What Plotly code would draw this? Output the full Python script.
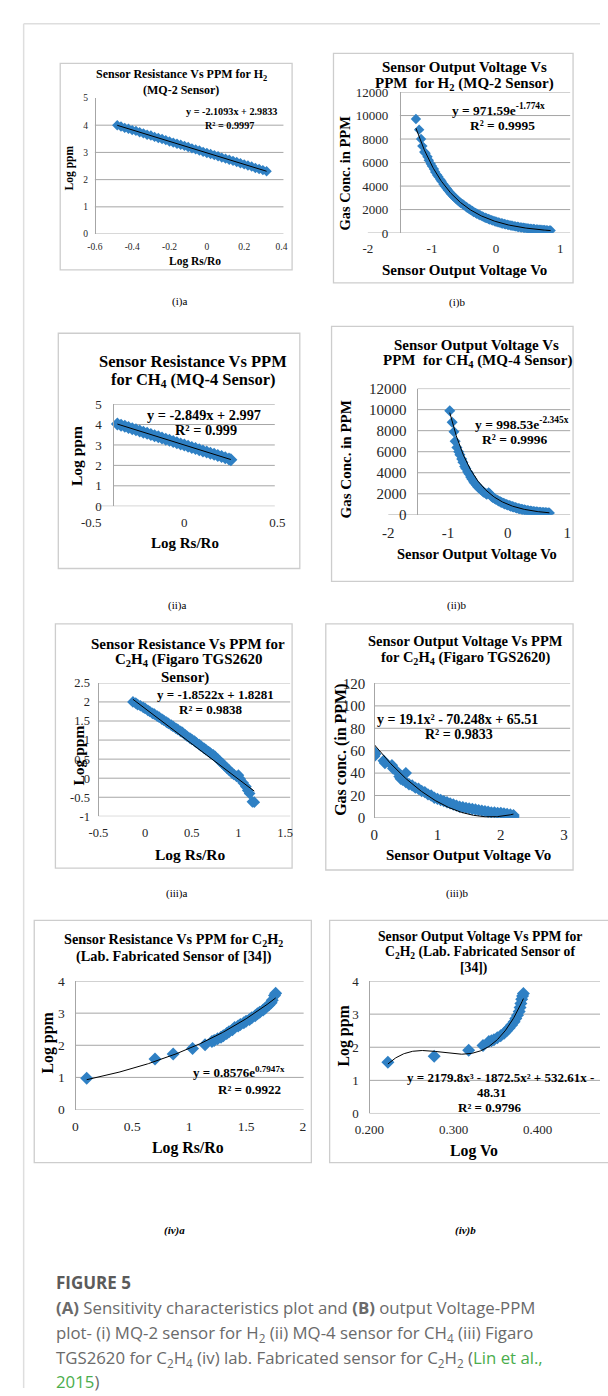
import numpy as np
import plotly.graph_objects as go

W, H = 608, 1396

# ---------------- data ----------------
# (i)a  MQ-2 log Rs/Ro vs log ppm
IA_X = [-0.48, -0.46, -0.44, -0.42, -0.40, -0.38, -0.36, -0.34, -0.32, -0.30,
        -0.28, -0.26, -0.24, -0.22, -0.20, -0.18, -0.16, -0.14, -0.12, -0.10,
        -0.08, -0.06, -0.04, -0.02, 0.00, 0.02, 0.04, 0.06, 0.08, 0.10,
        0.12, 0.14, 0.16, 0.18, 0.20, 0.22, 0.24, 0.26, 0.28, 0.30,
        0.32]
IA_Y = [4.00, 3.95, 3.90, 3.87, 3.82, 3.79, 3.74, 3.70, 3.65, 3.62,
        3.57, 3.53, 3.49, 3.45, 3.40, 3.36, 3.32, 3.28, 3.24, 3.20,
        3.15, 3.11, 3.07, 3.02, 2.98, 2.94, 2.90, 2.86, 2.81, 2.77,
        2.73, 2.69, 2.65, 2.60, 2.56, 2.52, 2.48, 2.43, 2.39, 2.35,
        2.31]
# (i)b  MQ-2 output voltage vs ppm
IB_X = [-1.25, -1.20, -1.17, -1.15, -1.12, -1.10, -1.07, -1.05, -1.02, -1.00,
        -0.97, -0.95, -0.92, -0.90, -0.87, -0.85, -0.82, -0.80, -0.77, -0.75,
        -0.72, -0.70, -0.67, -0.65, -0.62, -0.60, -0.57, -0.55, -0.52, -0.50,
        -0.47, -0.45, -0.42, -0.40, -0.37, -0.35, -0.32, -0.30, -0.27, -0.25,
        -0.22, -0.20, -0.17, -0.15, -0.12, -0.10, -0.07, -0.05, -0.02, 0.00,
        0.03, 0.05, 0.08, 0.10, 0.13, 0.15, 0.18, 0.20, 0.23, 0.25,
        0.28, 0.30, 0.33, 0.35, 0.38, 0.40, 0.43, 0.45, 0.48, 0.50,
        0.53, 0.55, 0.58, 0.60, 0.63, 0.65, 0.68, 0.70, 0.73, 0.75,
        0.78, 0.80, 0.83, 0.85]
IB_Y = [9700, 8800, 8000, 7400, 6900, 6800, 6500, 6200, 5900, 5700,
        5450, 5200, 4950, 4800, 4550, 4400, 4150, 4000, 3800, 3650,
        3450, 3330, 3150, 3050, 2900, 2780, 2650, 2550, 2450, 2360,
        2250, 2150, 2050, 1980, 1880, 1800, 1720, 1650, 1570, 1520,
        1440, 1380, 1310, 1270, 1200, 1160, 1100, 1060, 1010, 970,
        920, 890, 840, 810, 770, 740, 710, 680, 650, 620,
        590, 570, 540, 520, 490, 475, 450, 430, 410, 400,
        380, 360, 350, 335, 320, 310, 290, 280, 270, 260,
        250, 235, 230, 220]
# (ii)a  MQ-4 log Rs/Ro vs log ppm
IIA_X = [-0.36, -0.34, -0.32, -0.30, -0.28, -0.26, -0.24, -0.22, -0.20, -0.18,
         -0.16, -0.14, -0.12, -0.10, -0.08, -0.06, -0.04, -0.02, 0.00, 0.02,
         0.04, 0.06, 0.08, 0.10, 0.12, 0.14, 0.16, 0.18, 0.20, 0.22,
         0.24, 0.25]
IIA_Y = [4.02, 3.97, 3.91, 3.85, 3.79, 3.74, 3.68, 3.62, 3.57, 3.51,
         3.45, 3.40, 3.34, 3.28, 3.23, 3.17, 3.11, 3.05, 3.00, 2.94,
         2.88, 2.83, 2.77, 2.71, 2.66, 2.60, 2.54, 2.48, 2.43, 2.37,
         2.31, 2.28]
# (ii)b  MQ-4 output voltage vs ppm
IIB_X = [-0.97, -0.93, -0.90, -0.88, -0.85, -0.82, -0.80, -0.77, -0.75, -0.72,
         -0.70, -0.67, -0.65, -0.62, -0.60, -0.57, -0.55, -0.52, -0.50, -0.47,
         -0.45, -0.42, -0.40, -0.37, -0.35, -0.32, -0.30, -0.27, -0.25, -0.22,
         -0.20, -0.17, -0.15, -0.12, -0.10, -0.07, -0.05, -0.02, 0.00, 0.03,
         0.05, 0.08, 0.10, 0.13, 0.15, 0.18, 0.20, 0.23, 0.25, 0.28,
         0.30, 0.33, 0.35, 0.38, 0.40, 0.43, 0.45, 0.48, 0.50, 0.53,
         0.55, 0.58, 0.60, 0.63, 0.65, 0.68, 0.70]
IIB_Y = [9900, 8800, 7900, 7000, 6400, 6000, 5700, 5300, 5000, 4600,
         4400, 4100, 3900, 3600, 3400, 3150, 3000, 2800, 2650, 2500,
         2400, 2250, 2150, 2050, 1950, 2100, 2000, 1750, 1650, 1550,
         1480, 1380, 1310, 1230, 1170, 1100, 1040, 980, 940, 880,
         830, 780, 740, 690, 650, 610, 570, 530, 500, 470,
         440, 410, 390, 360, 340, 320, 300, 280, 270, 250,
         240, 230, 220, 210, 200, 190, 180]
# (iii)a  TGS2620 log Rs/Ro vs log ppm
IIIA_X = [-0.13, -0.10, -0.08, -0.05, -0.02, 0.00, 0.03, 0.05, 0.08, 0.10,
          0.13, 0.15, 0.18, 0.20, 0.23, 0.25, 0.28, 0.30, 0.33, 0.35,
          0.38, 0.40, 0.43, 0.45, 0.48, 0.50, 0.53, 0.55, 0.58, 0.60,
          0.63, 0.65, 0.68, 0.70, 0.73, 0.75, 0.78, 0.80, 0.83, 0.85,
          0.88, 0.90, 0.93, 0.95, 0.98, 1.00, 1.02, 1.05, 1.08, 1.10,
          1.12, 1.15, 1.17]
IIIA_Y = [2.00, 1.97, 1.93, 1.90, 1.86, 1.83, 1.78, 1.75, 1.70, 1.68,
          1.63, 1.60, 1.55, 1.52, 1.47, 1.44, 1.39, 1.36, 1.31, 1.28,
          1.23, 1.20, 1.14, 1.10, 1.05, 1.02, 0.97, 0.93, 0.88, 0.84,
          0.79, 0.75, 0.70, 0.66, 0.61, 0.57, 0.50, 0.45, 0.38, 0.33,
          0.26, 0.21, 0.14, 0.10, 0.05, 0.08, -0.02, -0.12, -0.22, -0.32,
          -0.40, -0.62, -0.63]
# (iii)b  TGS2620 output voltage vs ppm
IIIB_X = [0.00, 0.00, 0.02, 0.15, 0.17, 0.28, 0.30, 0.35, 0.40, 0.42,
          0.45, 0.50, 0.50, 0.55, 0.60, 0.65, 0.70, 0.75, 0.80, 0.85,
          0.90, 0.95, 1.00, 1.05, 1.10, 1.15, 1.20, 1.25, 1.30, 1.35,
          1.40, 1.45, 1.50, 1.55, 1.60, 1.65, 1.70, 1.75, 1.80, 1.85,
          1.90, 1.95, 2.00, 2.05, 2.10, 2.15, 2.20, 2.20, 2.20]
IIIB_Y = [59, 55, 57, 51, 49, 47, 44, 42, 37, 35,
          34, 40, 32, 30, 29, 27, 26, 24, 23, 21,
          20, 18, 17, 16, 15, 14, 13, 12, 11, 10,
          9.5, 9, 8.5, 8, 7.5, 7, 6.5, 6, 5.5, 5,
          5, 4.5, 4.5, 4, 3.5, 3, 2.5, 1.5, 0]
# (iv)a  lab sensor log Rs/Ro vs log ppm
IVA_X = [0.10, 0.70, 0.86, 1.03, 1.14, 1.20, 1.22, 1.25, 1.28, 1.30,
         1.33, 1.35, 1.38, 1.40, 1.43, 1.45, 1.48, 1.50, 1.53, 1.55,
         1.58, 1.60, 1.62, 1.65, 1.67, 1.70, 1.72, 1.73, 1.75, 1.76]
IVA_Y = [0.97, 1.57, 1.73, 1.90, 2.02, 2.12, 2.15, 2.20, 2.25, 2.30,
         2.37, 2.42, 2.48, 2.55, 2.60, 2.65, 2.70, 2.75, 2.80, 2.86,
         2.92, 2.98, 3.03, 3.10, 3.16, 3.25, 3.32, 3.40, 3.55, 3.62]
# (iv)b  lab sensor log Vo vs log ppm
IVB_X = [0.222, 0.277, 0.318, 0.335, 0.342, 0.345, 0.348, 0.352, 0.356, 0.360,
         0.363, 0.366, 0.369, 0.372, 0.374, 0.376, 0.378, 0.379, 0.380, 0.381,
         0.382, 0.383]
IVB_Y = [1.55, 1.73, 1.91, 2.05, 2.17, 2.20, 2.23, 2.29, 2.35, 2.42,
         2.50, 2.58, 2.67, 2.77, 2.87, 2.97, 3.08, 3.20, 3.32, 3.45,
         3.55, 3.62]

# trendline coefficients as printed on the charts
TREND_IA = [-2.1093, 2.9833]
TREND_IB = [971.59, -1.774]
TREND_IIA = [-2.849, 2.997]
TREND_IIB = [998.53, -2.345]
TREND_IIIA = [-1.8522, 1.8281]
TREND_IIIB = [19.1, -70.248, 65.51]
TREND_IVA = [0.8576, 0.7947]
TREND_IVB = [2179.8, -1872.5, 532.61, -48.31]

# tick values / labels
XT_IA = [-0.6, -0.4, -0.2, 0, 0.2, 0.4]
XL_IA = ["-0.6", "-0.4", "-0.2", "0", "0.2", "0.4"]
XT_VO = [-2, -1, 0, 1]
XL_VO = ["-2", "-1", "0", "1"]
XT_IIA = [-0.5, 0, 0.5]
XL_IIA = ["-0.5", "0", "0.5"]
XT_IIIA = [-0.5, 0, 0.5, 1, 1.5]
XL_IIIA = ["-0.5", "0", "0.5", "1", "1.5"]
XT_IIIB = [0, 1, 2, 3]
XL_IIIB = ["0", "1", "2", "3"]
XT_IVA = [0, 0.5, 1, 1.5, 2]
XL_IVA = ["0", "0.5", "1", "1.5", "2"]
XT_IVB = [0.2, 0.3, 0.4]
XL_IVB = ["0.200", "0.300", "0.400"]
YT_5 = [0, 1, 2, 3, 4, 5]
YL_5 = ["0", "1", "2", "3", "4", "5"]
YT_4 = [0, 1, 2, 3, 4]
YL_4 = ["0", "1", "2", "3", "4"]
YT_PPM = [0, 2000, 4000, 6000, 8000, 10000, 12000]
YL_PPM = ["0", "2000", "4000", "6000", "8000", "10000", "12000"]
YT_IIIA = [-1, -0.5, 0, 0.5, 1, 1.5, 2, 2.5]
YL_IIIA = ["-1", "-0.5", "0", "0.5", "1", "1.5", "2", "2.5"]
YT_IIIB = [0, 20, 40, 60, 80, 100, 120]
YL_IIIB = ["0", "20", "40", "60", "80", "100", "120"]

# ---------------- styling / layout ----------------
SERIF = "Liberation Serif"
BLUE = "#2F80C4"
GRID = "#a6a6a6"
BOXC = "#cdcdcd"
TICKC = "#262626"


def P(x):
    return x / W


def Q(y):
    return 1 - y / H


panels = [
    dict(X=IA_X, Y=IA_Y, trend=("poly", TREND_IA), box=(47, 56, 288, 265),
         xdom=(83, 277), xr=(-0.6, 0.4), xt=XT_IA, xl=XL_IA,
         ydom=(228.7, 91), yr=(0, 5), yt=YT_5, yl=YL_5, grid=[1, 2, 3, 4],
         vline=83, gright=279, bleft=83, tf=9.5, ysd=5, xsd=5, ms=8,
         xtitle=("Log Rs/Ro", 186.7, 256, 11.5), ytitle=("Log ppm", 56.7, 161.7, 11.5),
         titles=[("Sensor Resistance Vs PPM for H<sub>2</sub>", 173, 68),
                 ("(MQ-2 Sensor)", 173, 83)], tsize=12,
         eqs=[("y = -2.1093x + 2.9833", 225, 105), ("R² = 0.9997", 223, 119.3)], esize=10.2,
         label=("(i)a", 171, 297)),
    dict(X=IB_X, Y=IB_Y, trend=("exp", TREND_IB), box=(331, 46, 580, 278),
         xdom=(366.7, 566.7), xr=(-2, 1), xt=XT_VO, xl=XL_VO,
         ydom=(227.7, 85), yr=(0, 12000), yt=YT_PPM, yl=YL_PPM,
         grid=[2000, 4000, 6000, 8000, 10000, 12000],
         vline=400, gright=577, bleft=366.7, tf=13, ysd=9, xsd=6, ms=8,
         xtitle=("Sensor Output Voltage Vo", 466.7, 265, 15),
         ytitle=("Gas Conc. in PPM", 342.7, 166.7, 14.5),
         titles=[("Sensor Output Voltage Vs", 466.7, 59.3),
                 ("PPM  for H<sub>2</sub> (MQ-2 Sensor)", 467, 76.7)], tsize=15,
         eqs=[("y = 971.59e<sup>-1.774x</sup>", 503, 102.7), ("R² = 0.9995", 506.7, 119.3)],
         esize=13.4, label=("(i)b", 459, 298)),
    dict(X=IIA_X, Y=IIA_Y, trend=("poly", TREND_IIA), box=(45, 329, 296, 567),
         xdom=(79.3, 272.7), xr=(-0.5, 0.5), xt=XT_IIA, xl=XL_IIA,
         ydom=(504, 400.7), yr=(0, 5), yt=YT_5, yl=YL_5, grid=[1, 2, 3, 4, 5],
         vline=102.3, gright=270, bleft=85, tf=13, ysd=9, xsd=7, ms=10,
         xtitle=("Log Rs/Ro", 176.7, 541.7, 15), ytitle=("Log ppm", 63.3, 453.3, 15.5),
         titles=[("Sensor Resistance Vs PPM", 185, 357.3),
                 ("for CH<sub>4</sub> (MQ-4 Sensor)", 185, 376.7)], tsize=16.5,
         eqs=[("y = -2.849x + 2.997", 196.7, 411.7), ("R² = 0.999", 198.3, 427.3)], esize=14.3,
         label=("(ii)a", 168, 604)),
    dict(X=IIB_X, Y=IIB_Y, trend=("exp", TREND_IIB), box=(329, 322, 580, 580),
         xdom=(388, 574), xr=(-2, 1), xt=XT_VO, xl=XL_VO,
         ydom=(512.7, 385), yr=(0, 12000), yt=YT_PPM, yl=YL_PPM,
         grid=[2000, 4000, 6000, 8000, 10000, 12000],
         vline=418.3, gright=577, bleft=388, tf=15, ysd=8, xsd=7, ms=8.5,
         xtitle=("Sensor Output Voltage Vo", 480, 552.7, 14.5),
         ytitle=("Gas Conc. in PPM", 345, 456.7, 15),
         titles=[("Sensor Output Voltage Vs", 480, 340.7),
                 ("PPM  for CH<sub>4</sub> (MQ-4 Sensor)", 481, 356.7)], tsize=15,
         eqs=[("y = 998.53e<sup>-2.345x</sup>", 526.7, 420), ("R² = 0.9996", 520, 436)],
         esize=13.5, label=("(ii)b", 459, 604)),
    dict(X=IIIA_X, Y=IIIA_Y, trend=("poly", TREND_IIIA), box=(42, 623, 288, 870),
         xdom=(86.7, 280.7), xr=(-0.5, 1.5), xt=XT_IIIA, xl=XL_IIIA,
         ydom=(817.7, 682.7), yr=(-1, 2.5), yt=YT_IIIA, yl=YL_IIIA,
         grid=[-0.5, 0, 0.5, 1, 1.5, 2, 2.5],
         vline=86.7, gright=286, bleft=86.7, tf=12.5, ysd=6, xsd=7, ms=9,
         xtitle=("Log Rs/Ro", 181.7, 856.7, 15.5), ytitle=("Log ppm", 65, 756.7, 15.5),
         titles=[("Sensor Resistance Vs PPM for", 180, 643.3),
                 ("C<sub>2</sub>H<sub>4</sub> (Figaro TGS2620", 180, 660),
                 ("Sensor)", 176.7, 677.7)], tsize=15,
         eqs=[("y = -1.8522x + 1.8281", 208.3, 694), ("R² = 0.9838", 203.3, 710)], esize=13,
         label=("(iii)a", 168, 896)),
    dict(X=IIIB_X, Y=IIIB_Y, trend=("poly", TREND_IIIB), box=(323, 623, 580, 872),
         xdom=(373.3, 570.7), xr=(0, 3), xt=XT_IIIB, xl=XL_IIIB,
         ydom=(819.3, 683.3), yr=(0, 120), yt=YT_IIIB, yl=YL_IIIB,
         grid=[20, 40, 60, 80, 100, 120],
         vline=373.3, gright=577, bleft=373.3, tf=15, ysd=6, xsd=6, ms=9.5,
         xtitle=("Sensor Output Voltage Vo", 471.7, 856.7, 15),
         ytitle=("Gas conc. (in PPM)", 339.3, 750, 16),
         titles=[("Sensor Output Voltage Vs PPM", 468.3, 640.7),
                 ("for C<sub>2</sub>H<sub>4</sub> (Figaro TGS2620)", 468.3, 657.3)], tsize=14.5,
         eqs=[("y = 19.1x² - 70.248x + 65.51", 460, 720), ("R² = 0.9833", 461.7, 735)],
         esize=14, label=("(iii)b", 459, 896)),
    dict(X=IVA_X, Y=IVA_Y, trend=("exp", TREND_IVA), box=(20, 923, 308, 1168),
         xdom=(62.7, 299.3), xr=(0, 2), xt=XT_IVA, xl=XL_IVA,
         ydom=(1114.3, 984.3), yr=(0, 4), yt=YT_4, yl=YL_4, grid=[1, 2, 3, 4],
         vline=62.7, gright=300, bleft=62.7, tf=13.5, ysd=8, xsd=7, ms=10,
         xtitle=("Log Rs/Ro", 180, 1153.3, 15.8), ytitle=("Log ppm", 34, 1046.7, 15.8),
         titles=[("Sensor Resistance Vs PPM for C<sub>2</sub>H<sub>2</sub>", 165, 942.7),
                 ("(Lab. Fabricated Sensor of [34])", 165, 960)], tsize=14.3,
         eqs=[("y = 0.8576e<sup>0.7947x</sup>", 233.3, 1076.7), ("R² = 0.9922", 243.3, 1094)],
         esize=13, label=("<b><i>(iv)a</i></b>", 166, 1237)),
    dict(X=IVB_X, Y=IVB_Y, trend=("poly", TREND_IVB), box=(327, 923, 640, 1168),
         xdom=(368.3, 608), xr=(0.2, 0.474), xt=XT_IVB, xl=XL_IVB,
         ydom=(1118.3, 984.3), yr=(0, 4), yt=YT_4, yl=YL_4, grid=[1, 2, 3, 4],
         vline=368.3, gright=608, bleft=368.3, tf=13, ysd=8, xsd=7, ms=10,
         xtitle=("Log Vo", 476.7, 1156.7, 15.8), ytitle=("Log ppm", 342.3, 1040, 15.8),
         titles=[("Sensor Output Voltage Vs PPM for", 483.3, 939.3),
                 ("C<sub>2</sub>H<sub>2</sub> (Lab. Fabricated Sensor of", 483.3, 955),
                 ("[34])", 476.7, 971)], tsize=13.7,
         eqs=[("48.31", 495, 1097.5), ("R² = 0.9796", 493.3, 1112)], esize=13,
         eq_left=("y = 2179.8x³ - 1872.5x² + 532.61x -", 405, 1082),
         label=("<b><i>(iv)b</i></b>", 468, 1237)),
]

fig = go.Figure()
layout = {}
shapes = []
annotations = []


def ann(text, x, y, size, bold=False, angle=0, xanchor="center", family=SERIF, color="black"):
    t = f"<b>{text}</b>" if bold else text
    annotations.append(dict(text=t, x=P(x), y=Q(y), xref="paper", yref="paper",
                            showarrow=False, xanchor=xanchor, yanchor="middle",
                            textangle=angle, font=dict(family=family, size=size, color=color)))


for i, p in enumerate(panels, start=1):
    xa = "x" if i == 1 else f"x{i}"
    ya = "y" if i == 1 else f"y{i}"
    xkey = "xaxis" if i == 1 else f"xaxis{i}"
    ykey = "yaxis" if i == 1 else f"yaxis{i}"

    # frame of each chart
    bx0, by0, bx1, by1 = p["box"]
    shapes.append(dict(type="rect", xref="paper", yref="paper", x0=P(bx0), x1=P(bx1),
                       y0=Q(by1), y1=Q(by0), line=dict(color=BOXC, width=1.3), layer="below"))
    # horizontal gridlines and category axis line
    for v in p["grid"]:
        shapes.append(dict(type="line", xref="paper", yref=ya, x0=P(p["vline"]), x1=P(p["gright"]),
                           y0=v, y1=v, line=dict(color=GRID, width=1), layer="below"))
    shapes.append(dict(type="line", xref="paper", yref=ya, x0=P(p["bleft"]), x1=P(p["gright"]),
                       y0=p["yr"][0], y1=p["yr"][0], line=dict(color=GRID, width=1), layer="below"))

    fig.add_trace(go.Scatter(x=p["X"], y=p["Y"], mode="markers", xaxis=xa, yaxis=ya,
                             marker=dict(symbol="diamond", size=p["ms"], color=BLUE,
                                         line=dict(width=0)), hoverinfo="skip"))
    tx = np.linspace(min(p["X"]), max(p["X"]), 200)
    kind, c = p["trend"]
    ty = np.polyval(c, tx) if kind == "poly" else c[0] * np.exp(c[1] * tx)
    fig.add_trace(go.Scatter(x=tx, y=ty, mode="lines", xaxis=xa, yaxis=ya,
                             line=dict(color="black", width=1), hoverinfo="skip"))

    tick_font = dict(family=SERIF, size=p["tf"], color=TICKC)
    layout[xkey] = dict(domain=[P(p["xdom"][0]), P(p["xdom"][1])], range=list(p["xr"]),
                        tickmode="array", tickvals=p["xt"], ticktext=p["xl"],
                        showgrid=False, zeroline=False, showline=False, ticks="",
                        tickfont=tick_font, anchor=ya, ticklabelstandoff=p["xsd"],
                        fixedrange=True)
    layout[ykey] = dict(domain=[Q(p["ydom"][0]), Q(p["ydom"][1])], range=list(p["yr"]),
                        tickmode="array", tickvals=p["yt"], ticktext=p["yl"],
                        showgrid=False, zeroline=False, showline=True, linecolor=GRID,
                        linewidth=1, ticks="", tickfont=tick_font, anchor="free",
                        position=P(p["vline"]), ticklabelstandoff=p["ysd"], fixedrange=True)

    t, x, y, s = p["xtitle"]
    ann(t, x, y, s, bold=True)
    t, x, y, s = p["ytitle"]
    ann(t, x, y, s, bold=True, angle=-90)
    for t, x, y in p["titles"]:
        ann(t, x, y, p["tsize"], bold=True)
    for t, x, y in p["eqs"]:
        ann(t, x, y, p["esize"], bold=True)
    if "eq_left" in p:
        t, x, y = p["eq_left"]
        ann(t, x, y, p["esize"], bold=True, xanchor="left")
    t, x, y = p["label"]
    ann(t, x, y, 11)

# page frame
shapes.append(dict(type="line", xref="paper", yref="paper", x0=P(9), x1=P(9), y0=0, y1=Q(16),
                   line=dict(color="#dedede", width=1.5)))
shapes.append(dict(type="line", xref="paper", yref="paper", x0=P(9), x1=1, y0=Q(16), y1=Q(16),
                   line=dict(color="#dedede", width=1.5)))

# caption
CAP = "Open Sans"
GREEN = "#4aad4c"
ann("FIGURE 5", 40.7, 1289, 17, bold=True, xanchor="left", family=CAP, color="#5b5b5b")
cap_lines = [
    ("<b>(A)</b> Sensitivity characteristics plot and <b>(B)</b> output Voltage-PPM", 1315),
    ("plot- (i) MQ-2 sensor for H<sub>2</sub> (ii) MQ-4 sensor for CH<sub>4</sub> (iii) Figaro", 1341),
    ("TGS2620 for C<sub>2</sub>H<sub>4</sub> (iv) lab. Fabricated sensor for C<sub>2</sub>H<sub>2</sub> "
     f"(<span style='color:{GREEN}'>Lin et al.,</span>", 1366),
    (f"<span style='color:{GREEN}'>2015</span>)", 1389),
]
for t, y in cap_lines:
    ann(t, 40.7, y, 16.8, xanchor="left", family=CAP, color="#6a6a6a")

fig.update_layout(width=W, height=H, margin=dict(l=0, r=0, t=0, b=0),
                  paper_bgcolor="white", plot_bgcolor="white", showlegend=False,
                  shapes=shapes, annotations=annotations, **layout)
fig.write_html("out.html", config={"displayModeBar": False},
               post_script="document.body.style.margin='0';")
